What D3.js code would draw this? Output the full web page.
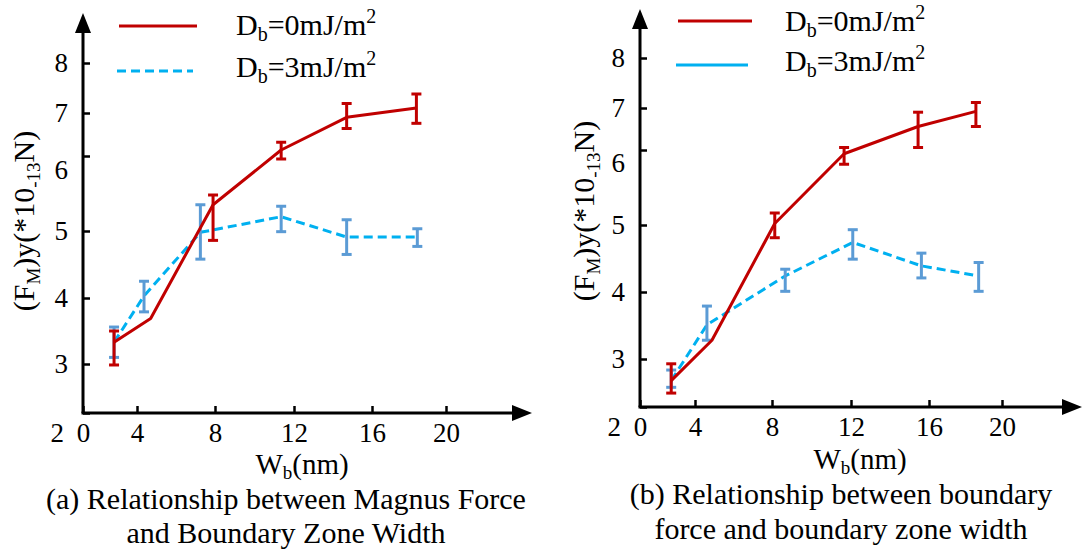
<!DOCTYPE html>
<html><head><meta charset="utf-8">
<script src="https://cdn.jsdelivr.net/npm/d3@7"></script>
<style>
body{margin:0;background:#fff}
svg text{font-family:'Liberation Serif','Times New Roman',Times,serif;fill:#000}
</style>
</head><body><svg id="c" width="1084" height="550"></svg>
<script>
// ---- data ----
const xTicks = [0, 4, 8, 12, 16, 20];
const yTicks = [2, 3, 4, 5, 6, 7, 8];
const legendLabels = ["0mJ/m", "3mJ/m"];

// panel (a) Magnus force
const aRedX  = [2.3, 4.7, 7.9, 11.35, 14.7, 18.4];
const aRedY  = [3.33, 3.69, 5.35, 6.14, 6.90, 7.10];
const aRedLo = [2.98, null, 4.86, 5.96, 6.64, 6.76];
const aRedHi = [3.50, null, 5.48, 6.32, 7.19, 7.38];
const aBluX  = [2.3, 4.36, 7.25, 11.35, 14.7, 18.45];
const aBluY  = [3.33, 4.03, 4.98, 5.19, 4.91, 4.91];
const aBluLo = [3.10, 3.79, 4.58, 4.99, 4.65, 4.77];
const aBluHi = [3.56, 4.25, 5.35, 5.33, 5.15, 5.03];

// panel (b) boundary force
const bRedX  = [2.27, 4.88, 8.14, 11.65, 15.44, 18.57];
const bRedY  = [2.55, 3.28, 5.02, 5.95, 6.56, 6.92];
const bRedLo = [2.29, null, 4.81, 5.81, 6.06, 6.56];
const bRedHi = [2.90, null, 5.16, 6.06, 6.90, 7.11];
const bBluX  = [2.27, 4.62, 8.67, 12.09, 15.61, 18.72];
const bBluY  = [2.55, 3.51, 4.24, 4.74, 4.39, 4.24];
const bBluLo = [2.41, 3.28, 4.01, 4.49, 4.21, 4.01];
const bBluHi = [2.77, 3.79, 4.34, 4.93, 4.58, 4.44];

const RED = "#C00000", BLUE = "#00B0F0", EBLUE = "#5B9BD5";

const svg = d3.select("#c");

function panel(o) {
  const g = svg.append("g");
  const x = d3.scaleLinear().domain(xTicks).range(o.xr);
  const y = d3.scaleLinear().domain(yTicks).range(o.yr);
  const x0 = o.xr[0], y0 = o.yr[0];

  const ya = g.append("g").attr("transform", `translate(${x0},0)`)
    .call(d3.axisLeft(y).tickValues(yTicks).tickFormat(d3.format("d"))
      .tickSizeInner(-7).tickSizeOuter(0).tickPadding(15));
  const xa = g.append("g").attr("transform", `translate(0,${y0})`)
    .call(d3.axisBottom(x).tickValues(xTicks).tickFormat(d3.format("d"))
      .tickSizeInner(-7).tickSizeOuter(0).tickPadding(10));
  [ya, xa].forEach(a => {
    a.attr("font-family", null).attr("font-size", null);
    a.select(".domain").remove();
    a.selectAll("line").attr("stroke", "#000").attr("stroke-width", 2.5);
    a.selectAll("text").attr("font-size", 27).attr("fill", "#000");
  });
  ya.selectAll(".tick").filter(d => d === 2).select("text").attr("transform", "translate(-4,20)");
  ya.selectAll(".tick").filter(d => d === 6).select("text").attr("transform", `translate(0,${o.sixShift})`);

  g.append("line").attr("x1", x0).attr("y1", y0).attr("x2", x0).attr("y2", o.yTip + 15)
    .attr("stroke", "#000").attr("stroke-width", 3);
  g.append("line").attr("x1", x0 - 1.5).attr("y1", y0).attr("x2", o.xTip - 15).attr("y2", y0)
    .attr("stroke", "#000").attr("stroke-width", 3);
  g.append("path").attr("d", `M${x0},${o.yTip} L${x0 - 8},${o.yTip + 20} L${x0 + 8},${o.yTip + 20} Z`).attr("fill", "#000");
  g.append("path").attr("d", `M${o.xTip},${y0} L${o.xTip - 20},${y0 - 8} L${o.xTip - 20},${y0 + 8} Z`).attr("fill", "#000");

  const line = d3.line().x(d => x(d[0])).y(d => y(d[1]));
  function series(X, Y, Lo, Hi, col, ecol, dash) {
    const pts = X.map((v, i) => [v, Y[i]]);
    g.append("path").attr("d", line(pts)).attr("fill", "none").attr("stroke", col)
      .attr("stroke-width", 3).attr("stroke-dasharray", dash || null).attr("stroke-linejoin", "round");
    const eb = g.append("g").attr("stroke", ecol).attr("stroke-width", 3);
    X.forEach((v, i) => {
      if (Lo[i] == null) return;
      const cx = x(v);
      eb.append("line").attr("x1", cx).attr("x2", cx).attr("y1", y(Lo[i])).attr("y2", y(Hi[i]));
      eb.append("line").attr("x1", cx - 5).attr("x2", cx + 5).attr("y1", y(Lo[i])).attr("y2", y(Lo[i]));
      eb.append("line").attr("x1", cx - 5).attr("x2", cx + 5).attr("y1", y(Hi[i])).attr("y2", y(Hi[i]));
    });
  }
  series(o.bX, o.bY, o.bLo, o.bHi, BLUE, EBLUE, "9,5");
  series(o.rX, o.rY, o.rLo, o.rHi, RED, RED, null);

  const L = o.leg;
  g.append("line").attr("x1", L.x1).attr("x2", L.x2).attr("y1", L.y[0]).attr("y2", L.y[0])
    .attr("stroke", RED).attr("stroke-width", 3);
  g.append("line").attr("x1", L.x1 - 2).attr("x2", L.x2 - 4).attr("y1", L.y[1]).attr("y2", L.y[1])
    .attr("stroke", BLUE).attr("stroke-width", 3).attr("stroke-dasharray", L.dash ? "9,5" : null);
  legendLabels.forEach((t, i) => {
    const tx = g.append("text").attr("x", L.tx).attr("y", L.ty[i]).attr("font-size", 30);
    tx.append("tspan").text("D");
    tx.append("tspan").attr("font-size", 20).attr("dy", 6).text("b");
    tx.append("tspan").attr("dy", -6).text("=" + t);
    tx.append("tspan").attr("font-size", 20).attr("dy", -12).text("2");
  });

  const yl = g.append("text").attr("transform", `translate(${o.ylx},${o.yly}) rotate(-90)`)
    .attr("text-anchor", "middle").attr("font-size", 30);
  yl.append("tspan").text("(F");
  yl.append("tspan").attr("font-size", 19).attr("dy", 6).text("M");
  yl.append("tspan").attr("dy", -6).text(")y(*10");
  yl.append("tspan").attr("font-size", 19).attr("dy", 6).text("-13");
  yl.append("tspan").attr("dy", -6).text("N)");

  const xl = g.append("text").attr("x", o.xlx).attr("y", o.xly).attr("text-anchor", "middle").attr("font-size", 29);
  xl.append("tspan").text("W");
  xl.append("tspan").attr("font-size", 19).attr("dy", 5).text("b");
  xl.append("tspan").attr("dy", -5).text("(nm)");

  o.cap.forEach((t, i) => {
    g.append("text").attr("x", o.capx).attr("y", o.capy[i]).attr("text-anchor", "middle")
      .attr("font-size", 30).text(t);
  });
}

panel({
  xr: [83, 137, 215, 294, 372, 446], yr: [413, 364, 298, 231, 156, 113, 63],
  xTip: 532, yTip: 13, sixShift: 14,
  rX: aRedX, rY: aRedY, rLo: aRedLo, rHi: aRedHi,
  bX: aBluX, bY: aBluY, bLo: aBluLo, bHi: aBluHi,
  leg: { x1: 119, x2: 197, y: [26, 71], tx: 236, ty: [35, 77], dash: true },
  ylx: 34, yly: 221, xlx: 302, xly: 474,
  cap: ["(a) Relationship between Magnus Force", "and Boundary Zone Width"], capx: 286, capy: [509, 543]
});
panel({
  xr: [640, 695, 772, 851, 929, 1002], yr: [407, 359, 292, 225, 150, 108, 58],
  xTip: 1082, yTip: 9, sixShift: 13,
  rX: bRedX, rY: bRedY, rLo: bRedLo, rHi: bRedHi,
  bX: bBluX, bY: bBluY, bLo: bBluLo, bHi: bBluHi,
  leg: { x1: 678, x2: 752, y: [21, 65], tx: 785, ty: [31, 71], dash: false },
  ylx: 594, yly: 211, xlx: 860, xly: 469,
  cap: ["(b) Relationship between boundary", "force and boundary zone width"], capx: 841, capy: [504, 539]
});
</script></body></html>
